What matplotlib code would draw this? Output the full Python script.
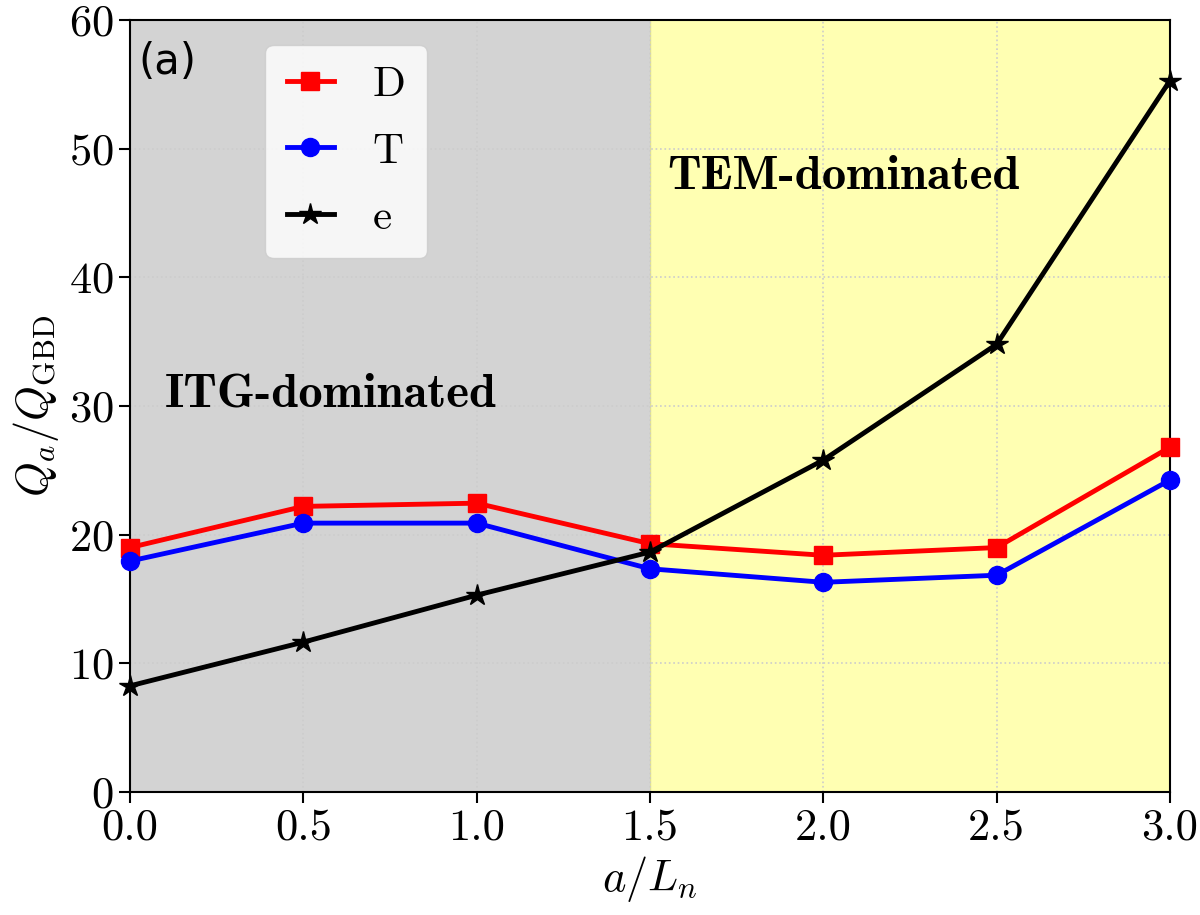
import matplotlib
matplotlib.use('Agg')
import matplotlib.pyplot as plt

plt.rcParams['mathtext.fontset'] = 'cm'
plt.rcParams['font.family'] = 'serif'
plt.rcParams['font.serif'] = ['cmr10']
plt.rcParams['axes.unicode_minus'] = False
plt.rcParams['axes.formatter.use_mathtext'] = True

# data
a_Ln = [0.0, 0.5, 1.0, 1.5, 2.0, 2.5, 3.0]
Q_D = [19.0, 22.2, 22.45, 19.3, 18.4, 19.0, 26.8]
Q_T = [17.95, 20.9, 20.9, 17.35, 16.3, 16.85, 24.25]
Q_e = [8.25, 11.65, 15.3, 18.65, 25.8, 34.8, 55.3]

fig = plt.figure(figsize=(12, 9.15), dpi=100)
ax = fig.add_axes([0.1083, 0.1344, 0.8667, 0.8437])

ax.axvspan(0.0, 1.5, color='lightgray', zorder=0)
ax.axvspan(1.5, 3.0, color='yellow', alpha=0.3, lw=0, zorder=0)
ax.grid(True, linestyle=':', color='#cccccc', lw=1.2, zorder=1)

ax.plot(a_Ln, Q_D, '-s', color='red', lw=3.5, ms=13, label='D', zorder=3, clip_on=False)
ax.plot(a_Ln, Q_T, '-o', color='blue', lw=3.5, ms=13, label='T', zorder=3, clip_on=False)
ax.plot(a_Ln, Q_e, '-*', color='black', lw=3.5, ms=16, label='e', zorder=4, clip_on=False)

ax.set_xlim(0, 3)
ax.set_ylim(0, 60)
ax.set_xticks([0.0, 0.5, 1.0, 1.5, 2.0, 2.5, 3.0])
ax.set_xticklabels(['0.0', '0.5', '1.0', '1.5', '2.0', '2.5', '3.0'])
ax.set_yticks([0, 10, 20, 30, 40, 50, 60])
ax.tick_params(labelsize=32, length=8, width=1.5)
for s in ax.spines.values():
    s.set_linewidth(1.5)

ax.set_xlabel(r'$a/L_n$', fontsize=32, labelpad=4)
ax.set_ylabel(r'$Q_a/Q_{\rm GBD}$', fontsize=32, labelpad=6)

ax.text(0.10, 30.0, 'ITG-dominated', fontfamily='cmb10', fontsize=35, va='baseline')
ax.text(1.55, 46.9, 'TEM-dominated', fontfamily='cmb10', fontsize=35, va='baseline')
ax.text(0.008, 0.945, '(a)', transform=ax.transAxes, fontfamily='DejaVu Sans', fontsize=30, va='center')

ax.legend(loc='upper left', bbox_to_anchor=(0.13, 0.968), borderaxespad=0, fontsize=31,
          handlelength=1.1, labelspacing=0.65, borderpad=0.5, handletextpad=0.9, fancybox=True)

fig.savefig('out.png', dpi=100)
